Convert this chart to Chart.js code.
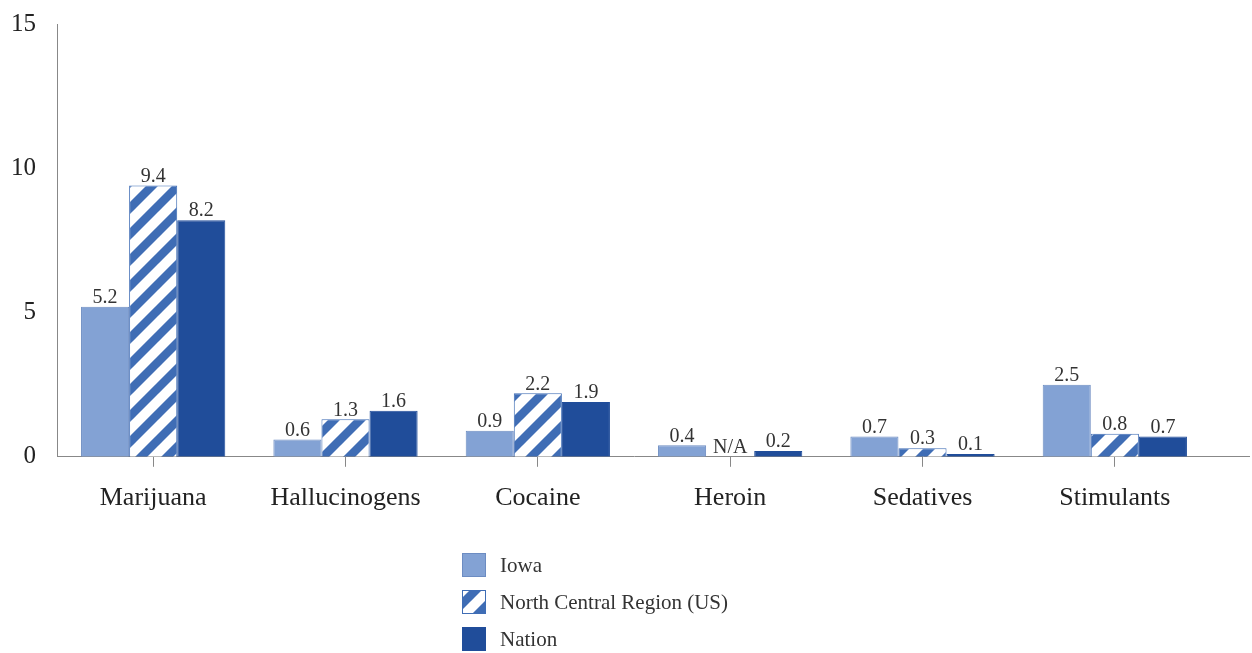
<!DOCTYPE html>
<html>
<head>
<meta charset="utf-8">
<script src="https://cdn.jsdelivr.net/npm/chart.js@4/dist/chart.umd.min.js"></script>
<style>
  html, body { margin: 0; padding: 0; background: #fff; }
  #wrap { width: 1252px; height: 653px; position: relative; }
</style>
</head>
<body>
<div id="wrap"><canvas id="c" width="1252" height="653"></canvas></div>
<script>
// Past-month drug use, percent
const categories = ['Marijuana', 'Hallucinogens', 'Cocaine', 'Heroin', 'Sedatives', 'Stimulants'];
const iowa = [5.2, 0.6, 0.9, 0.4, 0.7, 2.5];
const northCentral = [9.4, 1.3, 2.2, null, 0.3, 0.8];
const nation = [8.2, 1.6, 1.9, 0.2, 0.1, 0.7];
const seriesNames = ['Iowa', 'North Central Region (US)', 'Nation'];
const yTicks = [0, 5, 10, 15];

const LIGHT = '#83a2d4';
const LIGHT_EDGE = '#6c8cc2';
const STRIPE = '#3f6db5';
const DARK = '#204d9a';
const FONT = '"Liberation Serif", "Times New Roman", serif';

// Diagonal "/" hatching for the regional series
function stripePattern(ctx) {
  const s = 26;
  const p = document.createElement('canvas');
  p.width = s; p.height = s;
  const g = p.getContext('2d');
  g.fillStyle = '#ffffff';
  g.fillRect(0, 0, s, s);
  g.strokeStyle = STRIPE;
  g.lineWidth = 8.5;
  g.beginPath();
  for (let k = -2; k <= 2; k++) {
    g.moveTo(k * s - s, 2 * s);
    g.lineTo(k * s + 2 * s, -s);
  }
  g.stroke();
  return ctx.createPattern(p, 'repeat');
}

const canvas = document.getElementById('c');
const ctx = canvas.getContext('2d');
const stripes = stripePattern(ctx);

// Axis line continues a little past the last category
const axisExtension = {
  id: 'axisExtension',
  afterDraw(chart) {
    const c = chart.ctx;
    const a = chart.chartArea;
    const y = Math.round(a.bottom - 0.5) + 0.5;
    c.save();
    c.strokeStyle = '#888';
    c.lineWidth = 1;
    c.beginPath();
    c.moveTo(a.right - 1, y);
    c.lineTo(1250, y);
    c.stroke();
    c.restore();
  }
};

const valueLabels = {
  id: 'valueLabels',
  afterDatasetsDraw(chart) {
    const c = chart.ctx;
    c.save();
    c.font = '20px ' + FONT;
    c.fillStyle = '#333';
    c.textAlign = 'center';
    c.textBaseline = 'bottom';
    const yScale = chart.scales.y;
    chart.data.datasets.forEach((ds, di) => {
      const meta = chart.getDatasetMeta(di);
      meta.data.forEach((bar, i) => {
        const v = ds.data[i];
        const txt = v === null ? 'N/A' : v.toFixed(1);
        const y = v === null ? yScale.getPixelForValue(0) : bar.y;
        c.fillText(txt, bar.x, y + 1);
      });
    });
    c.restore();
  }
};

const sideLegend = {
  id: 'sideLegend',
  afterDraw(chart) {
    const c = chart.ctx;
    c.save();
    const fills = [LIGHT, stripes, DARK];
    const edges = [LIGHT_EDGE, STRIPE, DARK];
    const x = 462, size = 24;
    const ys = [553, 590, 627];
    c.font = '21px ' + FONT;
    c.textBaseline = 'middle';
    c.textAlign = 'left';
    seriesNames.forEach((name, i) => {
      c.fillStyle = fills[i];
      c.fillRect(x, ys[i], size, size);
      c.strokeStyle = edges[i];
      c.lineWidth = 1;
      c.strokeRect(x + 0.5, ys[i] + 0.5, size - 1, size - 1);
      c.fillStyle = '#333';
      c.fillText(name, x + 38, ys[i] + size / 2 + 1);
    });
    c.restore();
  }
};

new Chart(ctx, {
  type: 'bar',
  data: {
    labels: categories,
    datasets: [
      { label: seriesNames[0], data: iowa, backgroundColor: LIGHT, borderColor: LIGHT_EDGE, borderWidth: 1 },
      { label: seriesNames[1], data: northCentral, backgroundColor: stripes, borderColor: STRIPE, borderWidth: 1 },
      { label: seriesNames[2], data: nation, backgroundColor: DARK, borderColor: DARK, borderWidth: 1 }
    ]
  },
  options: {
    responsive: false,
    animation: false,
    layout: { padding: { top: 24, right: 41, bottom: 123, left: 0 } },
    datasets: { bar: { categoryPercentage: 0.75, barPercentage: 1.0 } },
    plugins: { legend: { display: false }, tooltip: { enabled: false } },
    scales: {
      x: {
        grid: { display: true, drawOnChartArea: false, offset: false, tickLength: 10, color: '#888' },
        border: { display: true, color: '#888', width: 1 },
        ticks: { font: { family: FONT, size: 26 }, color: '#222', padding: 16 }
      },
      y: {
        min: 0, max: 15,
        afterBuildTicks(scale) { scale.ticks = yTicks.map(v => ({ value: v })); },
        afterFit(scale) { scale.width = 57; scale.paddingTop = 0; scale.paddingBottom = 0; },
        grid: { display: false, drawTicks: false },
        border: { display: true, color: '#888', width: 1 },
        ticks: { font: { family: FONT, size: 25 }, color: '#222', padding: 21 }
      }
    }
  },
  plugins: [axisExtension, valueLabels, sideLegend]
});
</script>
</body>
</html>
